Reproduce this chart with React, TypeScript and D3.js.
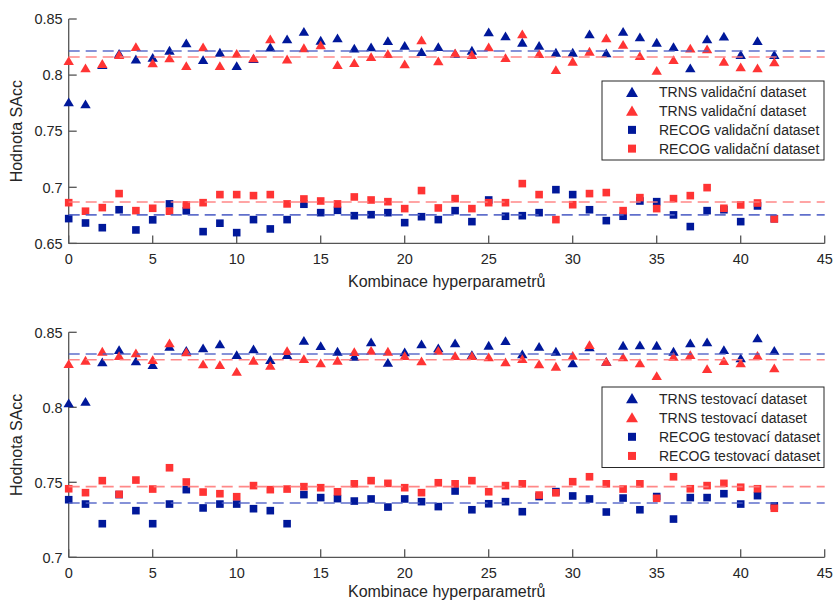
import React from "react";
import * as d3 from "d3";

const combos = d3.range(0, 43);

// Top panel: validation dataset
const valTrnsBlue = [0.7758, 0.774, 0.809, 0.819, 0.814, 0.8155, 0.8218, 0.8283, 0.8135, 0.820, 0.808, 0.8144, 0.8245, 0.832, 0.8387, 0.8307, 0.8328, 0.8236, 0.8248, 0.8304, 0.8262, 0.8206, 0.825, 0.819, 0.8218, 0.8381, 0.8346, 0.8289, 0.8262, 0.820, 0.820, 0.8364, 0.8194, 0.8387, 0.8337, 0.8289, 0.825, 0.806, 0.832, 0.8343, 0.818, 0.8304, 0.818];
const valTrnsRed = [0.8126, 0.806, 0.810, 0.818, 0.825, 0.8105, 0.815, 0.808, 0.8248, 0.808, 0.819, 0.815, 0.832, 0.814, 0.824, 0.8266, 0.809, 0.8108, 0.8161, 0.8188, 0.8096, 0.831, 0.8123, 0.8194, 0.818, 0.8248, 0.8153, 0.8364, 0.8188, 0.8046, 0.812, 0.8209, 0.8328, 0.8271, 0.817, 0.8039, 0.8135, 0.8236, 0.823, 0.812, 0.807, 0.806, 0.8114];
const valRecogBlue = [0.6721, 0.6682, 0.664, 0.680, 0.662, 0.671, 0.6852, 0.679, 0.6605, 0.668, 0.6596, 0.6712, 0.6629, 0.6712, 0.6849, 0.6774, 0.6795, 0.6747, 0.6756, 0.6774, 0.6685, 0.6738, 0.6712, 0.6792, 0.6694, 0.6887, 0.6742, 0.6747, 0.6774, 0.6979, 0.6935, 0.680, 0.6703, 0.6742, 0.6878, 0.6872, 0.6754, 0.665, 0.6792, 0.680, 0.6694, 0.6834, 0.672];
const valRecogRed = [0.6863, 0.6787, 0.6819, 0.6944, 0.6792, 0.6813, 0.6787, 0.6843, 0.6863, 0.6935, 0.6935, 0.6926, 0.6935, 0.6852, 0.6896, 0.6878, 0.6852, 0.6914, 0.6887, 0.6872, 0.681, 0.6971, 0.6816, 0.6899, 0.681, 0.6863, 0.6863, 0.7033, 0.6935, 0.6712, 0.6845, 0.6944, 0.6953, 0.6792, 0.6908, 0.681, 0.6899, 0.6926, 0.6997, 0.6813, 0.6843, 0.686, 0.6718];
const valMeans = [0.8215, 0.8161, 0.6754, 0.6869];

// Bottom panel: test dataset
const testTrnsBlue = [0.8027, 0.8037, 0.830, 0.8382, 0.8307, 0.8282, 0.8404, 0.8377, 0.8393, 0.842, 0.8349, 0.8387, 0.8315, 0.8349, 0.8444, 0.8409, 0.8371, 0.8337, 0.8433, 0.8297, 0.8367, 0.842, 0.8393, 0.8427, 0.8349, 0.8411, 0.8442, 0.8353, 0.8404, 0.8371, 0.8293, 0.840, 0.8304, 0.8411, 0.8413, 0.8411, 0.8371, 0.8427, 0.8433, 0.8382, 0.8327, 0.846, 0.8377];
const testTrnsRed = [0.8289, 0.8311, 0.8371, 0.8342, 0.836, 0.8315, 0.8427, 0.8367, 0.8287, 0.8282, 0.8237, 0.8311, 0.8277, 0.8375, 0.8322, 0.8293, 0.8311, 0.8369, 0.8377, 0.8371, 0.8342, 0.8307, 0.8377, 0.8342, 0.8342, 0.8333, 0.83, 0.8322, 0.8287, 0.8271, 0.8344, 0.8415, 0.8304, 0.8333, 0.8293, 0.8209, 0.8337, 0.8349, 0.8255, 0.8309, 0.8293, 0.8344, 0.826];
const testRecogBlue = [0.7384, 0.7355, 0.7224, 0.7418, 0.7311, 0.7224, 0.7355, 0.7451, 0.7329, 0.7355, 0.7355, 0.7324, 0.7311, 0.7224, 0.7418, 0.7398, 0.7391, 0.7375, 0.7389, 0.7335, 0.7389, 0.7371, 0.7338, 0.7442, 0.7317, 0.7357, 0.7371, 0.7304, 0.7405, 0.7438, 0.7409, 0.7389, 0.7302, 0.7395, 0.7317, 0.7405, 0.7255, 0.7398, 0.7398, 0.7424, 0.7355, 0.7411, 0.7343];
const testRecogRed = [0.7457, 0.7431, 0.7511, 0.742, 0.7515, 0.7455, 0.7597, 0.7502, 0.7435, 0.7424, 0.7404, 0.7478, 0.7451, 0.7455, 0.7471, 0.7464, 0.7437, 0.749, 0.7511, 0.7493, 0.7464, 0.7431, 0.7497, 0.749, 0.7511, 0.7437, 0.7478, 0.749, 0.7415, 0.743, 0.7504, 0.7537, 0.749, 0.7455, 0.749, 0.7393, 0.7537, 0.7457, 0.7478, 0.7493, 0.7467, 0.7457, 0.7327];
const testMeans = [0.8355, 0.8317, 0.7362, 0.7471];

const xTicks = [0, 5, 10, 15, 20, 25, 30, 35, 40, 45];
const valYTicks = [0.65, 0.7, 0.75, 0.8, 0.85];
const valYTickLabels = ["0.65", "0.7", "0.75", "0.8", "0.85"];
const testYTicks = [0.7, 0.75, 0.8, 0.85];
const testYTickLabels = ["0.7", "0.75", "0.8", "0.85"];
const valLegend = ["TRNS validační dataset", "TRNS validační dataset", "RECOG validační dataset", "RECOG validační dataset"];
const testLegend = ["TRNS testovací dataset", "TRNS testovací dataset", "RECOG testovací dataset", "RECOG testovací dataset"];
const xLabel = "Kombinace hyperparametrů";
const yLabel = "Hodnota SAcc";

const BLUE = "#00189a";
const RED = "#ff3434";
const BLUE_LINE = "#4f60c6";
const RED_LINE = "#ff7c7c";
const AXIS = "#555";
const TEXT = "#262626";
const FONT = "'Liberation Sans', Arial, sans-serif";

const triPath = (cx: number, cy: number, s = 1) =>
  `M${cx},${cy - 4.8 * s}L${cx + 5.2 * s},${cy + 4 * s}L${cx - 5.2 * s},${cy + 4 * s}Z`;

type PanelProps = {
  top: number;
  bottom: number;
  yDomain: [number, number];
  yTicks: number[];
  yTickLabels: string[];
  series: number[][];
  means: number[];
  legend: string[];
  legendBox: [number, number, number, number];
  xLabelOffset: number;
};

function Panel({ top, bottom, yDomain, yTicks, yTickLabels, series, means, legend, legendBox, xLabelOffset }: PanelProps) {
  const x = d3.scaleLinear().domain([0, 45]).range([68.7, 824.7]);
  const y = d3.scaleLinear().domain(yDomain).range([bottom, top]);
  const colors = [BLUE, RED, BLUE, RED];
  const lineColors = [BLUE_LINE, RED_LINE, BLUE_LINE, RED_LINE];
  const [lx, ly, lw, lh] = legendBox;
  const rowH = (lh - 4) / 4;
  return (
    <g>
      <line x1={x(0)} x2={x(0)} y1={y(yDomain[1])} y2={y(yDomain[0])} stroke={AXIS} strokeWidth={1.3} />
      <line x1={x(0)} x2={x(45)} y1={y(yDomain[0])} y2={y(yDomain[0])} stroke={AXIS} strokeWidth={1.3} />
      {yTicks.map((t, i) => (
        <g key={"yt" + i}>
          <line x1={x(0)} x2={x(0) + 8} y1={y(t)} y2={y(t)} stroke={AXIS} strokeWidth={1.3} />
          <text x={x(0) - 6} y={y(t)} dy="0.36em" textAnchor="end" fontSize={14.5} fill={TEXT} fontFamily={FONT}>
            {yTickLabels[i]}
          </text>
        </g>
      ))}
      {xTicks.map((t) => (
        <g key={"xt" + t}>
          <line x1={x(t)} x2={x(t)} y1={y(yDomain[0])} y2={y(yDomain[0]) - 8} stroke={AXIS} strokeWidth={1.3} />
          <text x={x(t)} y={y(yDomain[0]) + 21} textAnchor="middle" fontSize={14.5} fill={TEXT} fontFamily={FONT}>
            {t}
          </text>
        </g>
      ))}
      <text x={x(22.5)} y={y(yDomain[0]) + xLabelOffset} textAnchor="middle" fontSize={16} fill={TEXT} fontFamily={FONT}>
        {xLabel}
      </text>
      <text
        transform={`translate(22,${(top + bottom) / 2}) rotate(-90)`}
        textAnchor="middle"
        fontSize={16}
        fill={TEXT}
        fontFamily={FONT}
      >
        {yLabel}
      </text>
      {series.map((vals, si) => (
        <g key={"s" + si}>
          {vals.map((v, i) =>
            si < 2 ? (
              <path key={i} d={triPath(x(combos[i]), y(v))} fill={colors[si]} />
            ) : (
              <rect key={i} x={x(combos[i]) - 3.8} y={y(v) - 3.8} width={7.6} height={7.6} fill={colors[si]} />
            )
          )}
        </g>
      ))}
      {means.map((m, i) => (
        <line
          key={"m" + i}
          x1={x(0)}
          x2={x(45)}
          y1={y(m)}
          y2={y(m)}
          stroke={lineColors[i]}
          strokeWidth={1.6}
          strokeDasharray="11,6"
          opacity={0.9}
        />
      ))}
      <rect x={lx} y={ly} width={lw} height={lh} fill="#fff" stroke={TEXT} strokeWidth={1} />
      {legend.map((lab, i) => {
        const cy = ly + 2 + rowH * (i + 0.5);
        return (
          <g key={"l" + i}>
            {i < 2 ? (
              <path d={triPath(lx + 30, cy, 1.15)} fill={colors[i]} />
            ) : (
              <rect x={lx + 30 - 4} y={cy - 4} width={8} height={8} fill={colors[i]} />
            )}
            <text x={lx + 57} y={cy} dy="0.36em" fontSize={14} fill={TEXT} fontFamily={FONT}>
              {lab}
            </text>
          </g>
        );
      })}
    </g>
  );
}

export default function App() {
  return (
    <div style={{ position: "fixed", left: 0, top: 0 }}>
      <svg width={834} height={602} style={{ display: "block", background: "#fff" }}>
        <Panel
          top={19}
          bottom={243.4}
          yDomain={[0.65, 0.85]}
          yTicks={valYTicks}
          yTickLabels={valYTickLabels}
          series={[valTrnsBlue, valTrnsRed, valRecogBlue, valRecogRed]}
          means={valMeans}
          legend={valLegend}
          legendBox={[602, 81, 222, 79]}
          xLabelOffset={44}
        />
        <Panel
          top={332.3}
          bottom={557.3}
          yDomain={[0.7, 0.85]}
          yTicks={testYTicks}
          yTickLabels={testYTickLabels}
          series={[testTrnsBlue, testTrnsRed, testRecogBlue, testRecogRed]}
          means={testMeans}
          legend={testLegend}
          legendBox={[602, 387, 222, 80.5]}
          xLabelOffset={40}
        />
      </svg>
    </div>
  );
}
